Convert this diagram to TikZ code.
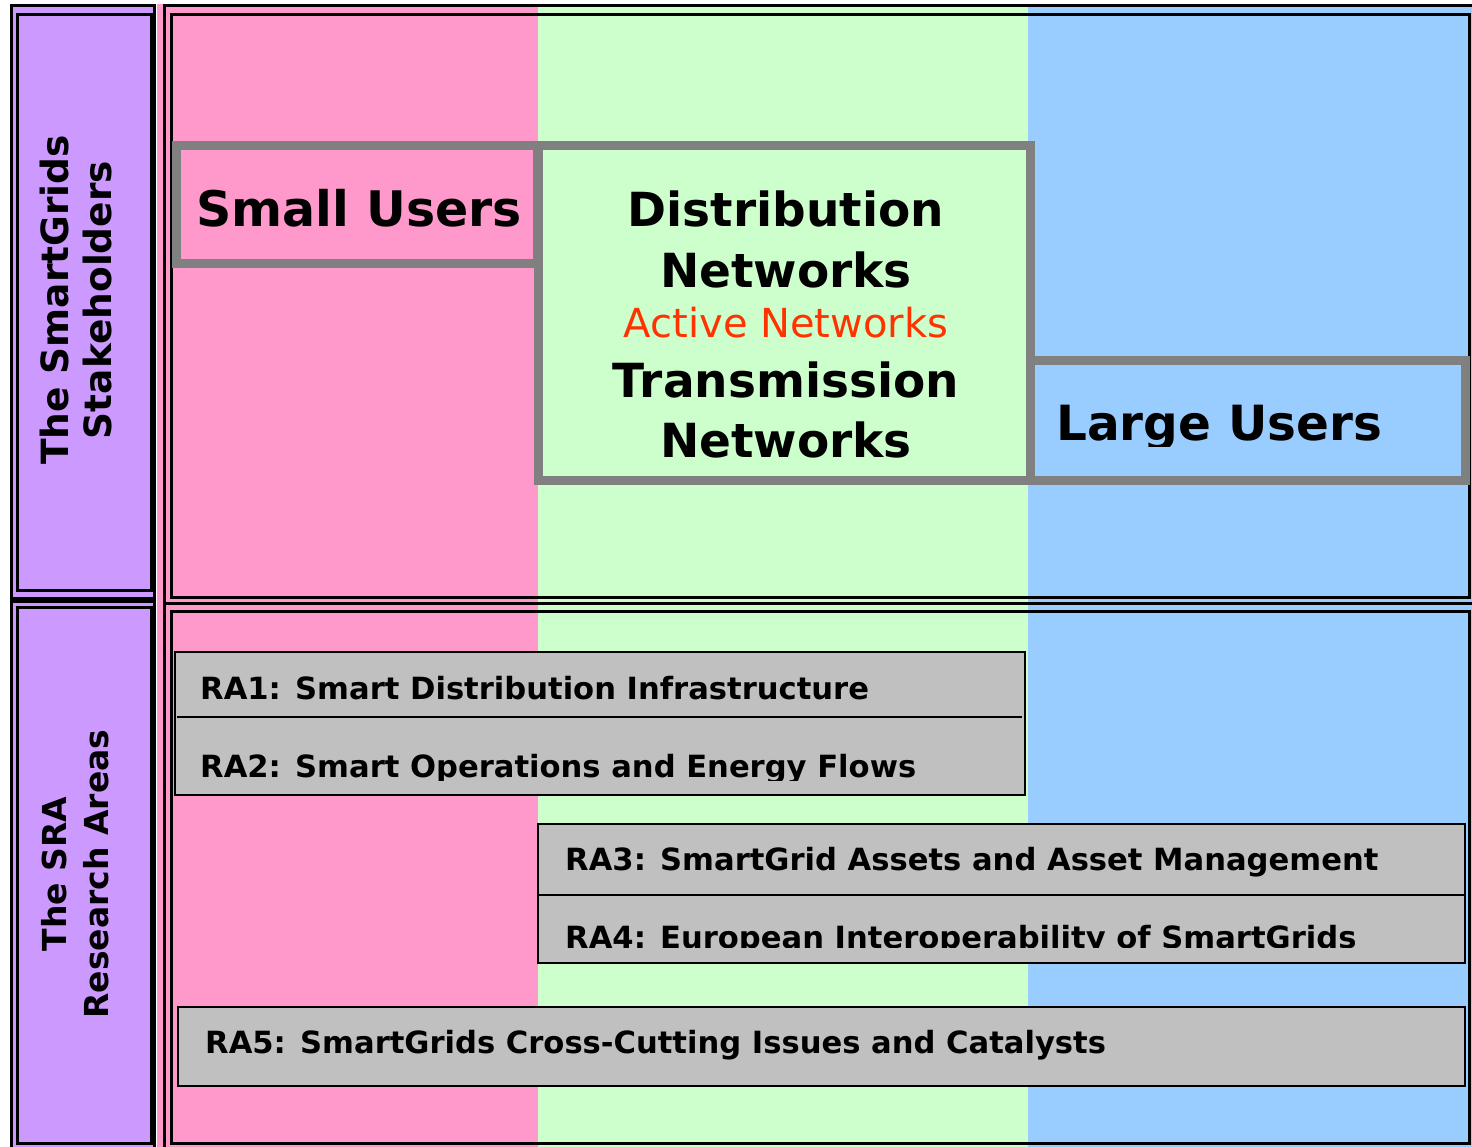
\documentclass[tikz,border=0pt]{standalone}
\usepackage{fontspec}
\setmainfont{DejaVu Sans}
\usepackage{tikz}
\definecolor{bandpink}{HTML}{FF99CC}
\definecolor{bandgreen}{HTML}{CCFFCC}
\definecolor{bandblue}{HTML}{99CCFF}
\definecolor{sidepurple}{HTML}{CC99FF}
\definecolor{stakegray}{HTML}{808080}
\definecolor{ragray}{HTML}{C0C0C0}
\definecolor{activered}{HTML}{FF3300}

\begin{document}
\begin{tikzpicture}[x=1pt,y=-1pt,
  frame/.style={draw=black,line width=3pt},
  stakebox/.style={draw=stakegray,line width=9pt},
  rabox/.style={draw=black,line width=2.5pt,fill=ragray},
  bigtext/.style={font=\fontsize{47}{52}\selectfont\bfseries,inner sep=0pt},
  ratext/.style={font=\fontsize{30.6}{36}\selectfont\bfseries,anchor=base west,inner sep=0pt},
  sidetext/.style n args={2}{font=\fontsize{#1}{#2}\selectfont\bfseries,rotate=90,align=center,inner sep=0pt}]
\useasboundingbox (0,0) rectangle (1472,1146);
% colour bands
\foreach \xa/\xb/\col in {157/538/bandpink,538/1028/bandgreen,1028/1480/bandblue} {
   \fill[\col] (\xa,4) rectangle (\xb,1150);
}
% left panels
\fill[sidepurple] (11,5) rectangle (154.5,598);
\fill[sidepurple] (11,601) rectangle (154.5,1150);
\draw[frame] (11,5) rectangle (154.5,598);
\draw[frame] (17.5,14.5) rectangle (151,590.5);
\draw[frame] (11,601) rectangle (154.5,1150);
\draw[frame] (17.5,607.5) rectangle (151,1143.5);
% right panels
\draw[frame] (164.5,5) rectangle (1476,603);
\draw[frame] (171.5,14.5) rectangle (1469.5,597);
\draw[frame] (164.5,603.5) rectangle (1476,1150);
\draw[frame] (171.5,611.5) rectangle (1469.5,1143);

\node[sidetext={37.5}{43}] (stake) at (76,300) {The SmartGrids\\Stakeholders};
\node[sidetext={33}{42}] (sra) at (75,874) {The SRA\\Research Areas};

% stakeholders
\draw[stakebox] (176,145) rectangle (537,263);
\draw[stakebox] (538,145) rectangle (1030,480);
\draw[stakebox] (1030,360) rectangle (1465,480);
\node[bigtext,font=\fontsize{49}{54}\selectfont\bfseries,anchor=base west] (small) at (196,226) {Small Users};
\node[bigtext,anchor=base] (distnet) at (786,226) {Distribution};
\node[bigtext,anchor=base] (distnet2) at (786,287) {Networks};
\node[font=\fontsize{40}{44}\selectfont,text=activered,anchor=base,inner sep=0pt] (active) at (786,337) {Active Networks};
\node[bigtext,anchor=base] (transnet) at (786,397) {Transmission};
\node[bigtext,anchor=base] (transnet2) at (786,457) {Networks};
\begin{scope}
\clip (1035,365) rectangle (1460,446);
\node[bigtext,font=\fontsize{48.5}{54}\selectfont\bfseries,anchor=base west] (large) at (1056,440) {Large Users};
\end{scope}

% research areas
\draw[rabox] (175,652) rectangle (1025,795);
\draw[line width=2.5pt] (177,717) -- (1022,717);
\node[ratext] (ra1) at (200,699) {RA1: Smart Distribution Infrastructure};
\begin{scope}
\clip (180,720) rectangle (1020,780);
\node[ratext] (ra2) at (200,777) {RA2: Smart Operations and Energy Flows};
\end{scope}
\draw[rabox] (538,824) rectangle (1465,963);
\draw[line width=2.5pt] (538,895) -- (1465,895);
\node[ratext] (ra3) at (565,870) {RA3: SmartGrid Assets and Asset Management};
\begin{scope}
\clip (540,898) rectangle (1462,947);
\node[ratext] (ra4) at (565,948) {RA4: European Interoperability of SmartGrids};
\end{scope}
\draw[rabox] (178,1007) rectangle (1465,1086);
\node[ratext] (ra5) at (205,1053) {RA5: SmartGrids Cross-Cutting Issues and Catalysts};
\end{tikzpicture}
\end{document}
